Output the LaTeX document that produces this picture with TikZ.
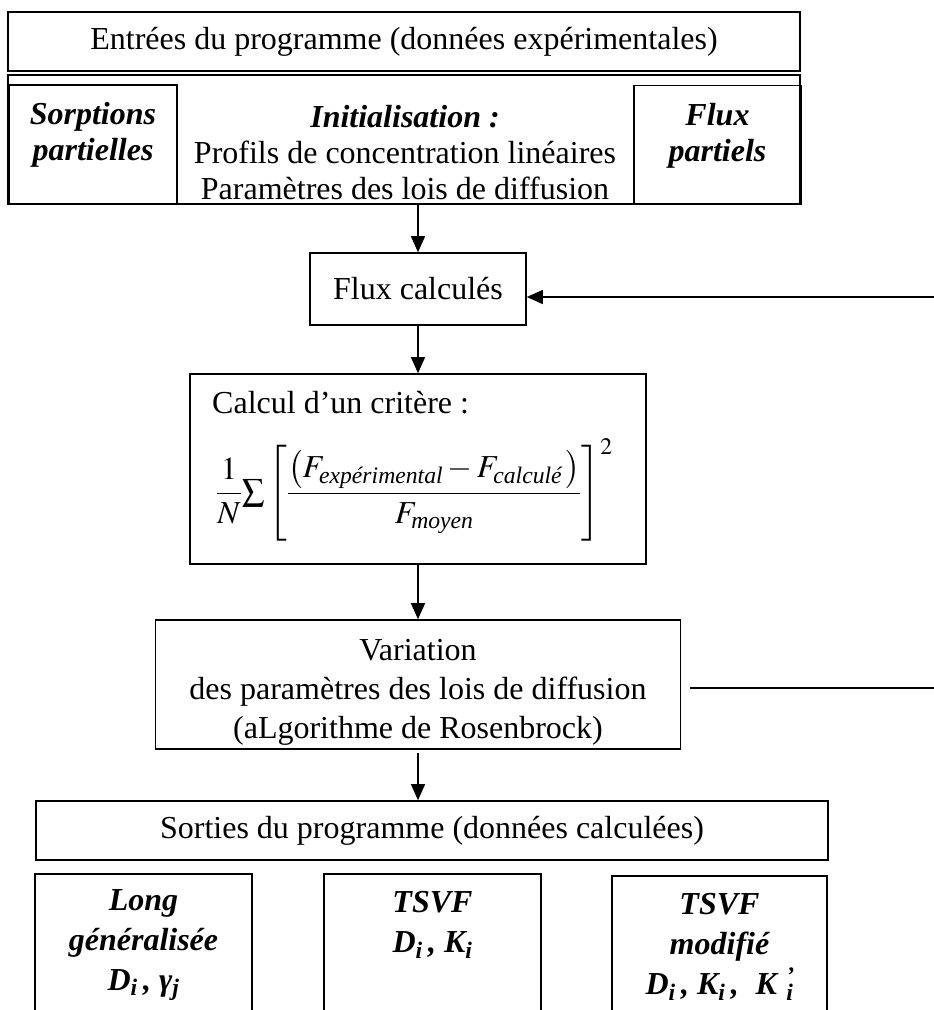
\documentclass[tikz,border=0pt]{standalone}
\usepackage{amsmath}
\usepackage{mathptmx}
\usepackage[no-math]{fontspec}
\setmainfont{Liberation Serif}
\usetikzlibrary{arrows.meta,positioning,calc}

\begin{document}
\begin{tikzpicture}[x=1pt, y=-1pt,
    every node/.append style={font=\fontsize{32}{36}\selectfont},
    box/.style={draw, line width=1.6pt, inner sep=0pt},
    txt/.style={inner sep=0pt, align=center},
    outtxt/.style={txt, font=\fontsize{32}{40}\selectfont\bfseries\itshape},
    arr/.style={-{Triangle[length=16pt,width=14pt]}, line width=1.4pt},
    wire/.style={line width=1.4pt}
  ]
  \useasboundingbox (0,0) rectangle (934,1010);
  \clip (0,0) rectangle (934,1010);
  % Program inputs
  \node[box, minimum width=792, minimum height=59] (entrees) at (404,41.5)
    {Entrées du programme (données expérimentales)};
  \node[box, minimum width=792, minimum height=129] (inputs) at (404,139.5) {};
  \node[box, minimum width=168, minimum height=119] (sorp) at (93,144.5) {};
  \node[txt] (sorptxt) at (93,135) {\bfseries\itshape Sorptions\\\bfseries\itshape partielles};
  \node[box, minimum width=167, minimum height=119] (fluxpart) at (717.5,145) {};
  \node[txt] (fluxtxt) at (717.5,136) {\bfseries\itshape Flux\\\bfseries\itshape partiels};
  \node[txt] (init) at (405,152.5)
    {\textbf{\textit{Initialisation :}}\\Profils de concentration linéaires\\Paramètres des lois de diffusion};
  % Loop
  \node[box, minimum width=216, minimum height=72] (fluxcalc) at (418,289) {Flux calculés};
  \node[box, minimum width=456, minimum height=190] (critere) at (418,469) {};
  \node[txt, anchor=west] (critxt) at (212,403) {Calcul d’un critère :};
  \node[txt, anchor=west] (formule) at (216,490)
    {$\displaystyle\frac{1}{N}{\textstyle\sum}\left[\frac{\left(F_{\textit{expérimental}}-F_{\textit{calculé}}\,\right)}{F_{\textit{moyen}}}\right]^2$};
  \node[box, minimum width=525, minimum height=129] (variation) at (418,684.5) {};
  \node[txt, font=\fontsize{32}{39}\selectfont] (vartxt) at (418,692)
    {Variation\\des paramètres des lois de diffusion\\(aLgorithme de Rosenbrock)};
  % Program outputs
  \node[box, minimum width=792, minimum height=59] (sorties) at (432,830.5)
    {Sorties du programme (données calculées)};
  \node[box, minimum width=217, minimum height=180, anchor=north] (long) at (143.5,873) {};
  \node[outtxt] (longtxt) at (143.5,945)
    {Long\\généralisée\\D\textsubscript{i}\,, γ\textsubscript{j}};
  \node[box, minimum width=217, minimum height=180, anchor=north] (tsvf) at (432.5,873) {};
  \node[outtxt] (tsvftxt) at (432.5,925)
    {TSVF\\D\textsubscript{i}\,, K\textsubscript{i}};
  \node[box, minimum width=215, minimum height=180, anchor=north] (tsvfmod) at (719.5,875) {};
  \node[outtxt] (tsvfmodtxt) at (719.5,947)
    {TSVF\\modifié\\D\textsubscript{i}\,, K\textsubscript{i}\,,\; K\,\rlap{\textsuperscript{\,'}}\textsubscript{\,i}};
  % Connectors
  \coordinate (rtop) at (934,297);
  \coordinate (rbot) at (934,688);
  \draw[arr] (fluxcalc.north |- inputs.south) -- (fluxcalc.north);
  \draw[arr] (fluxcalc.south) -- (critere.north);
  \draw[arr] (critere.south) -- (variation.north);
  \draw[arr] ([yshift=-3pt]variation.south) -- (variation.south |- sorties.north);
  \draw[arr] (rtop) -- (fluxcalc.east |- rtop);
  \draw[wire] ($(variation.east |- rbot)+(9,0)$) -- (rbot);
\end{tikzpicture}
\end{document}
